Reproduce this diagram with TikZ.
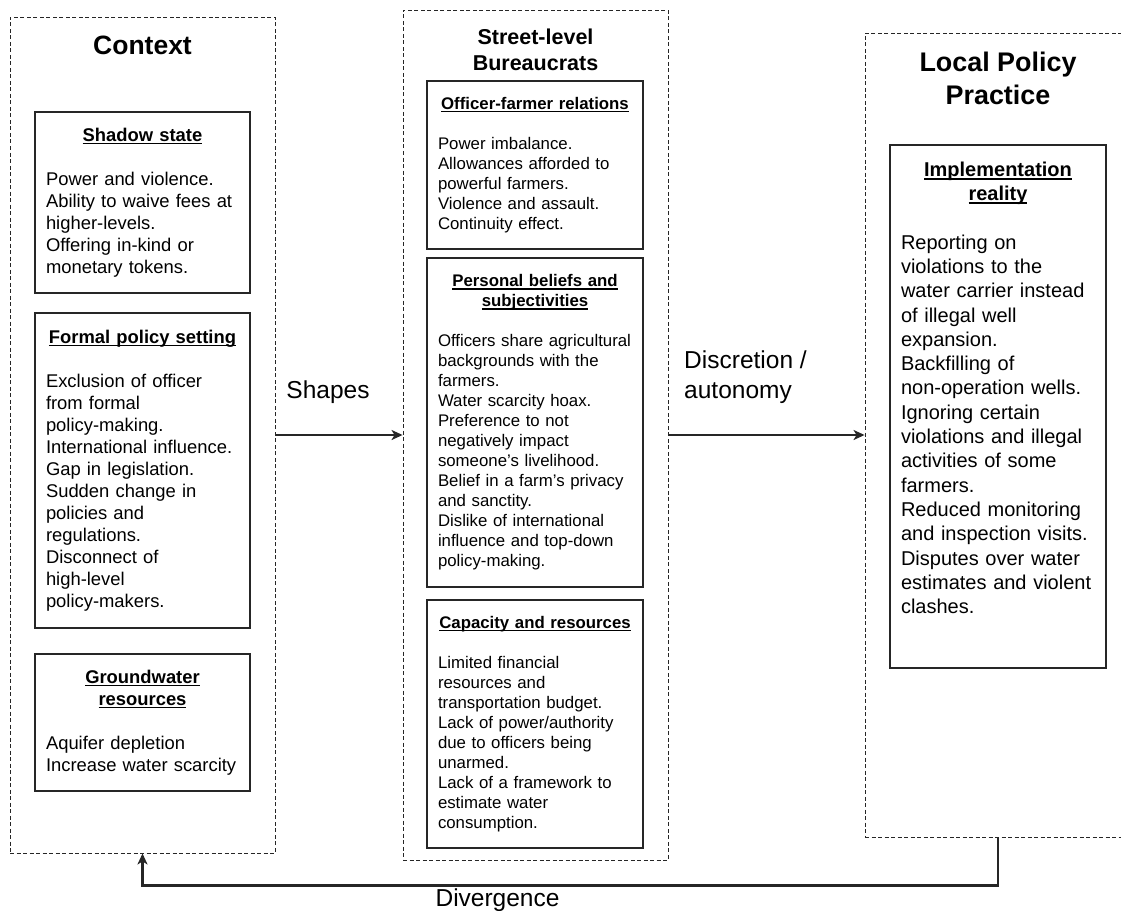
\documentclass[tikz,border=0pt]{standalone}
\usepackage{fontspec}
\setmainfont{Liberation Sans}
\usetikzlibrary{arrows.meta, positioning}
\newcommand{\fsize}[2]{\fontsize{#1}{#2}\selectfont}
\newcommand{\hdline}[1]{\leavevmode\setbox0\hbox{#1}\rlap{\rule[-0.17em]{\wd0}{0.075em}}\box0}
\newcommand{\paneltitle}[1]{{\centering\bfseries #1\par}\vspace{\baselineskip}}
\tikzstyle{frame} = [rectangle, draw=black!85, dash pattern=on 4pt off 2.5pt, line width=0.9pt]
\tikzstyle{panel} = [rectangle, draw=black!85, line width=1.2pt, inner xsep=11pt, align=left]
\tikzstyle{heading} = [inner sep=0pt, align=center]
\tikzstyle{flowlabel} = [inner sep=0pt, font=\fsize{24.5}{30}]
\tikzstyle{flowarrow} = [line width=2.2pt, draw=black!85, -{Stealth[length=11pt, width=10pt, inset=3pt]}]

\begin{document}
\begin{tikzpicture}[x=1pt, y=-1pt]
    \useasboundingbox (0,0) rectangle (1121,910);
    % columns
    \node[frame, minimum width=265pt, minimum height=836pt] at (142.5, 435) (context) {};
    \node[frame, minimum width=265pt, minimum height=850pt] at (535.5, 435) (street) {};
    \node[frame, minimum width=266pt, minimum height=804pt] at (998, 435) (local) {};

    \node[heading, font=\fsize{26.5}{33}\bfseries] at (142.5, 45) (contexttitle) {Context};
    \node[heading, font=\fsize{21.5}{26}\bfseries] at (535.5, 50) (streettitle) {Street-level\\Bureaucrats};
    \node[heading, font=\fsize{26.9}{33}\bfseries] at (998, 78) (localtitle) {Local Policy\\Practice};

    % context panels
    \node[panel, font=\fsize{18.4}{22}, text width=193pt, minimum height=181pt] at (142.5, 202.5) (shadow) {\paneltitle{\hdline{Shadow state}}Power and violence.\\Ability to waive fees at\\higher-levels.\\Offering in-kind or\\monetary tokens.};
    \node[panel, font=\fsize{18.4}{22}, text width=193pt, minimum height=315pt] at (142.5, 470.5) (formal) {\paneltitle{\hdline{Formal policy setting}}Exclusion of officer\\from formal\\policy-making.\\International influence.\\Gap in legislation.\\Sudden change in\\policies and\\regulations.\\Disconnect of\\high-level\\policy-makers.};
    \node[panel, font=\fsize{18.4}{22}, text width=193pt, minimum height=137pt] at (142.5, 722.5) (groundwater) {\paneltitle{\hdline{Groundwater}\\\hdline{resources}}Aquifer depletion\\Increase water scarcity};

    % street-level panels
    \node[panel, font=\fsize{16.8}{20}, text width=194pt, minimum height=168pt] at (535, 165) (relations) {\paneltitle{\hdline{Officer-farmer relations}}Power imbalance.\\Allowances afforded to\\powerful farmers.\\Violence and assault.\\Continuity effect.};
    \node[panel, font=\fsize{16.8}{20}, text width=194pt, minimum height=329pt] at (535, 422.5) (beliefs) {\paneltitle{\hdline{Personal beliefs and}\\\hdline{subjectivities}}Officers share agricultural\\backgrounds with the\\farmers.\\Water scarcity hoax.\\Preference to not\\negatively impact\\someone's livelihood.\\Belief in a farm's privacy\\and sanctity.\\Dislike of international\\influence and top-down\\policy-making.};
    \node[panel, font=\fsize{16.8}{20}, text width=194pt, minimum height=248pt] at (535, 724) (capacity) {\paneltitle{\hdline{Capacity and resources}}Limited financial\\resources and\\transportation budget.\\Lack of power/authority\\due to officers being\\unarmed.\\Lack of a framework to\\estimate water\\consumption.};

    % local practice panel
    \node[panel, font=\fsize{20}{24.3}, text width=194pt, minimum height=523pt, text depth=475pt] at (998, 406.5) (reality) {\paneltitle{\hdline{Implementation}\\\hdline{reality}}Reporting on\\violations to the\\water carrier instead\\of illegal well\\expansion.\\Backfilling of\\non-operation wells.\\Ignoring certain\\violations and illegal\\activities of some\\farmers.\\Reduced monitoring\\and inspection visits.\\Disputes over water\\estimates and violent\\clashes.};

    \coordinate (loopback) at ([yshift=-48pt]local.south);

    \draw[flowarrow] (context) -- node[flowlabel, above=30pt, midway, xshift=-11pt] {Shapes} (street);
    \draw[flowarrow] (street) -- node[flowlabel, above=30pt, midway, xshift=-21pt, align=left] {Discretion /\\autonomy} (local);
    \draw[flowarrow] (local.south) -- (loopback) -- node[flowlabel, below=2pt, pos=0.585] {Divergence} (loopback -| context.south) -- (context.south);
\end{tikzpicture}
\end{document}
